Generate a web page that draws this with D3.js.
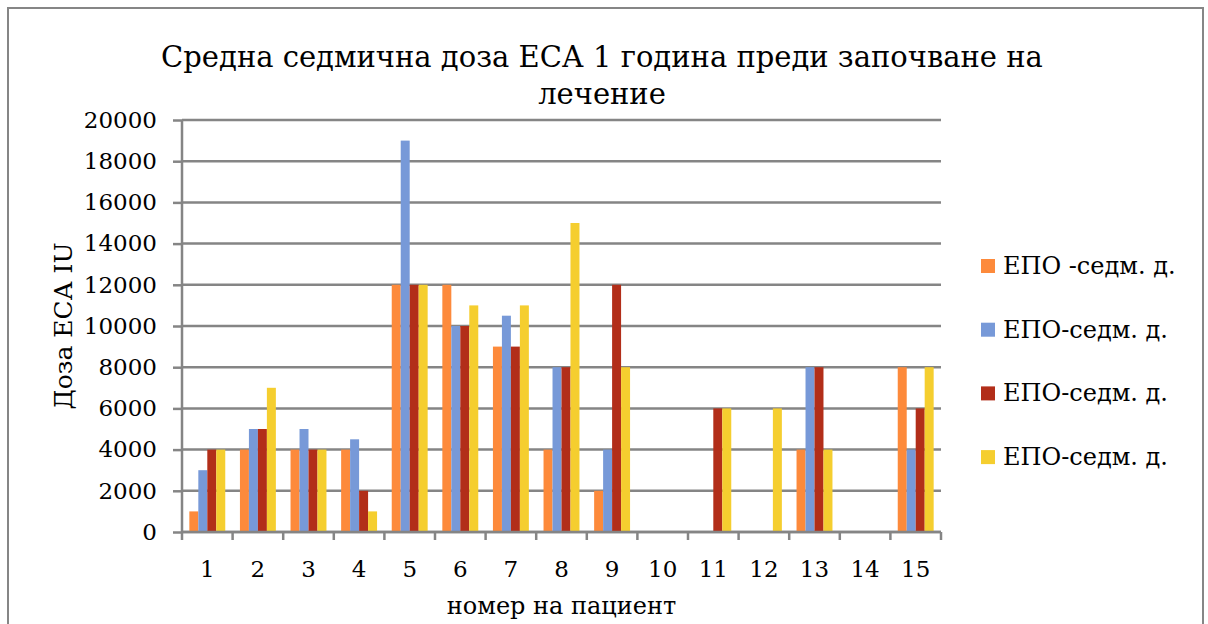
<!DOCTYPE html>
<html>
<head>
<meta charset="utf-8">
<script src="https://cdn.jsdelivr.net/npm/d3@7"></script>
<style>
  html, body { margin: 0; padding: 0; background: #fff; }
  svg { display: block; }
</style>
</head>
<body>
<svg id="chart" width="1208" height="624"></svg>
<script>
// Patient numbers along the x axis
const patients = ["1","2","3","4","5","6","7","8","9","10","11","12","13","14","15"];
// Legend labels of the four series
const seriesNames = ["ЕПО -седм. д.", "ЕПО-седм. д.", "ЕПО-седм. д.", "ЕПО-седм. д."];
// Weekly dose per patient, one array per series (IU)
const seriesA = [1000, 4000, 4000, 4000, 12000, 12000, 9000, 4000, 2000, 0, 0, 0, 4000, 0, 8000];
const seriesB = [3000, 5000, 5000, 4500, 19000, 10000, 10500, 8000, 4000, 0, 0, 0, 8000, 0, 4000];
const seriesC = [4000, 5000, 4000, 2000, 12000, 10000, 9000, 8000, 12000, 0, 6000, 0, 8000, 0, 6000];
const seriesD = [4000, 7000, 4000, 1000, 12000, 11000, 11000, 15000, 8000, 0, 6000, 6000, 4000, 0, 8000];
const yTicks = [0, 2000, 4000, 6000, 8000, 10000, 12000, 14000, 16000, 18000, 20000];

const colors = ["#FD8A3B", "#7799D8", "#B22E19", "#F5CE2F"];
const allSeries = [seriesA, seriesB, seriesC, seriesD];
const serif = "'DejaVu Serif', 'Liberation Serif', serif";

const svg = d3.select("#chart");
const plot = { left: 182, right: 941, top: 120, bottom: 532 };

// Outer frame
svg.append("rect")
  .attr("x", 8).attr("y", 8).attr("width", 1195).attr("height", 640)
  .attr("fill", "#fff").attr("stroke", "#868686").attr("stroke-width", 2);

const x0 = d3.scaleBand().domain(patients).range([plot.left, plot.right]).padding(0);
const bw = x0.bandwidth();
const x1 = d3.scaleBand().domain(d3.range(4)).range([bw * 0.145, bw * 0.855]).padding(0);
const y = d3.scaleLinear().domain([0, 20000]).range([plot.bottom, plot.top]);

// Horizontal gridlines
svg.append("g").selectAll("line").data(yTicks).join("line")
  .attr("x1", plot.left).attr("x2", plot.right)
  .attr("y1", d => y(d)).attr("y2", d => y(d))
  .attr("stroke", "#858585").attr("stroke-width", 2.5);

// Bars
const groups = svg.append("g").selectAll("g").data(patients).join("g")
  .attr("transform", d => `translate(${x0(d)},0)`);
groups.selectAll("rect")
  .data((p, i) => allSeries.map((s, k) => ({ k, v: s[i] })))
  .join("rect")
  .attr("x", d => x1(d.k))
  .attr("width", x1.bandwidth())
  .attr("y", d => y(d.v))
  .attr("height", d => y(0) - y(d.v))
  .attr("fill", d => colors[d.k]);

// Y axis
const yAxis = d3.axisLeft(y).tickValues(yTicks).tickSize(9).tickFormat(d3.format("d"));
const gy = svg.append("g").attr("transform", `translate(${plot.left},0)`).call(yAxis);
gy.select(".domain").attr("stroke", "#858585").attr("stroke-width", 2.5)
  .attr("d", `M0,${plot.bottom}V${plot.top}`);
gy.selectAll(".tick line").attr("stroke", "#858585").attr("stroke-width", 2.5);
gy.selectAll(".tick text").attr("font-family", serif).attr("font-size", 23).attr("fill", "#000")
  .attr("x", -25);

// X axis: ticks at category boundaries, labels centred in each band
const gx = svg.append("g");
gx.append("line").attr("x1", plot.left).attr("x2", plot.right)
  .attr("y1", plot.bottom).attr("y2", plot.bottom)
  .attr("stroke", "#858585").attr("stroke-width", 2.5);
const bounds = patients.map(p => x0(p)).concat([plot.right]);
gx.selectAll("line.tk").data(bounds).join("line").attr("class", "tk")
  .attr("x1", d => d).attr("x2", d => d)
  .attr("y1", plot.bottom).attr("y2", plot.bottom + 8)
  .attr("stroke", "#858585").attr("stroke-width", 2.5);
gx.selectAll("text").data(patients).join("text")
  .attr("x", d => x0(d) + bw / 2).attr("y", 577)
  .attr("text-anchor", "middle")
  .attr("font-family", serif).attr("font-size", 23).attr("fill", "#000")
  .text(d => d);

// Title
const title = svg.append("text").attr("text-anchor", "middle")
  .attr("font-family", serif).attr("font-size", 29).attr("fill", "#000");
title.append("tspan").attr("x", 602).attr("y", 67).text("Средна седмична доза ЕСА 1 година преди започване на");
title.append("tspan").attr("x", 602).attr("y", 104).text("лечение");

// Axis titles
svg.append("text").attr("x", (plot.left + plot.right) / 2).attr("y", 614)
  .attr("text-anchor", "middle").attr("font-family", serif).attr("font-size", 24)
  .text("номер на пациент");
svg.append("text").attr("transform", `translate(72,${(plot.top + plot.bottom) / 2}) rotate(-90)`)
  .attr("text-anchor", "middle").attr("font-family", serif).attr("font-size", 25)
  .text("Доза ЕСА IU");

// Legend
const legend = svg.append("g").selectAll("g").data(seriesNames).join("g")
  .attr("transform", (d, i) => `translate(981,${266 + i * 63.7})`);
legend.append("rect").attr("x", 0).attr("y", -7).attr("width", 14).attr("height", 14)
  .attr("fill", (d, i) => colors[i]);
legend.append("text").attr("x", 22).attr("y", 8)
  .attr("font-family", serif).attr("font-size", 24).attr("fill", "#000")
  .text(d => d);
</script>
</body>
</html>
